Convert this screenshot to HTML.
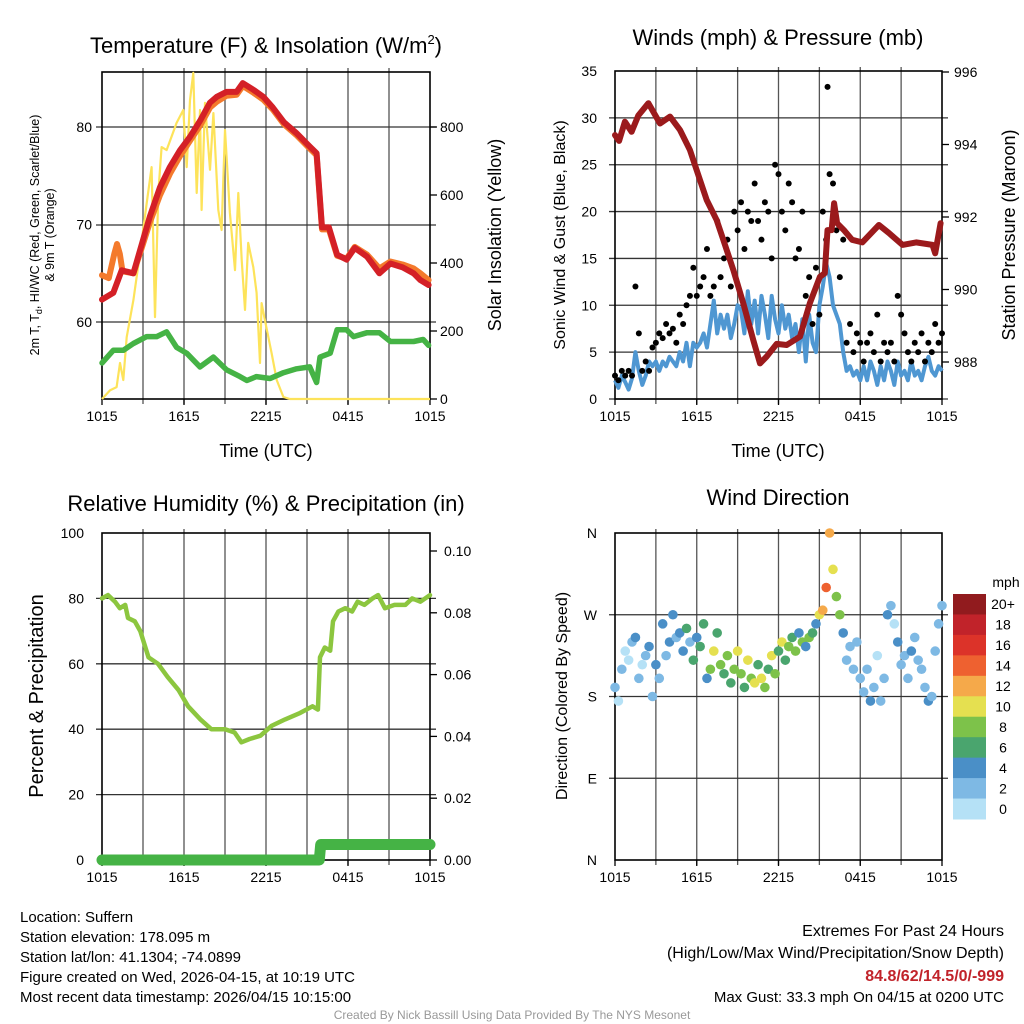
<!DOCTYPE html>
<html><head><meta charset="utf-8"><style>
body{margin:0;background:#fff;}
svg{display:block;font-family:"Liberation Sans",sans-serif;}
</style></head><body>
<svg id="s" width="1024" height="1024" viewBox="0 0 1024 1024" xmlns="http://www.w3.org/2000/svg"></svg>
<script>
// ---- Panel 1 data ----
const tHours=[0,0.83,1.44,2.3,3.0,3.5,4.24,4.97,5.7,6.44,7.2,7.9,8.4,9.1,9.85,10.3,11.1,11.8,12.5,13.3,14.2,15.2,15.7,16.1,16.6,17.2,17.9,18.5,19.4,20.3,21.1,22.0,22.8,23.3,23.9];
const tempRed=[62.3,63,65.3,65,68.4,70.8,73.8,75.9,77.6,79,80.7,82.5,83.1,83.6,83.6,84.5,83.8,83.1,82,80.5,79.4,78,77.3,69.7,69.7,66.9,66.4,67.6,66.7,65,66,65.6,65,64.3,63.8];
const oHours=[0,0.5,0.9,1.1,1.3,1.5,2.3,3.0,3.5,4.24,4.97,5.7,6.44,7.2,7.9,8.4,9.1,9.85,10.3,11.1,11.8,12.5,13.3,14.2,15.2,15.7,16.1,16.6,17.2,17.9,18.5,19.4,20.3,21.1,22.0,22.8,23.3,23.9];
const tempOrange=[64.8,64.5,67,68,67,65.2,65,68,70.2,73,75.2,77,78.6,80.2,82,82.6,83.2,83.3,84.2,83.5,82.8,81.8,80.3,79.2,77.8,77.1,69.5,69.5,66.8,66.5,67.7,66.9,65.5,66.2,65.9,65.5,65,64.3];
const dHours=[0,0.83,1.56,2.3,3.27,4.0,4.73,5.46,6.2,7.17,8.15,9.12,10.1,10.6,11.3,12.3,13.27,14.24,15.2,15.7,15.95,16.7,17.2,17.9,18.4,19.4,20.3,21.1,22.05,22.8,23.5,23.9];
const dewGreen=[55.8,57.1,57.1,57.8,58.5,58.5,59,57.4,56.8,55.4,56.4,55.1,54.4,54,54.4,54.2,54.8,55.2,55.4,53.8,56.4,56.8,59.2,59.2,58.5,58.9,58.9,58,58,58,58.2,57.6];
const sHours=[0,0.59,1.07,1.32,1.56,1.81,2.3,2.78,3.27,3.63,3.88,4.12,4.36,4.73,5.46,5.95,6.2,6.44,6.68,6.93,7.17,7.29,7.54,7.9,8.15,8.51,8.75,9.0,9.36,9.73,9.97,10.22,10.46,10.7,11.07,11.31,11.56,11.68,11.92,12.41,12.78,13.27,13.75,24];
const solar=[0,26,35,106,56,182,291,429,576,682,241,606,741,732,812,850,682,879,959,606,850,556,871,674,841,556,497,791,547,379,606,409,262,459,388,312,106,282,232,135,56,6,0,0];
// ---- Panel 2 data ----
const pHours=[0,0.3,0.73,1.22,1.71,2.45,3.3,4.04,4.77,5.5,5.99,6.73,7.46,7.95,8.68,9.42,10.15,10.64,11.13,11.87,12.6,13.58,14.3,15.04,15.4,15.6,15.9,16.08,16.3,16.8,17.4,18.15,19.37,20.1,21.1,22.1,23.3,23.5,23.9];
const pressure=[994.26,994.1,994.63,994.35,994.8,995.14,994.58,994.77,994.4,993.85,993.3,992.47,991.92,991.37,990.54,989.62,988.6,987.96,988.15,988.5,988.47,988.7,989.62,990.35,990.45,991.64,991.64,992.38,991.83,991.64,991.37,991.3,991.78,991.56,991.23,991.3,991.23,991.0,991.83];
// 15-minute series (97 values, h=0..24)
const wind=[2,1.2,2.5,1.8,1,2.2,5,3,1.5,2.5,4,3.5,4,3,4,3.5,4.5,4,3.5,5,4,6,3.5,6,5.5,6,7,5.5,8,10.5,7,9,7.5,9,6.5,8,10,9.5,7,11.5,8,10.5,7,11,9,6.5,11,8.5,7,10,7.5,9,6.5,8,5,8.5,4,9,6,5,10,12,14.5,13,10,9,8,5,3,3.5,2.5,3,2,3.5,2,4,3,1.5,3.5,2,4,3,1.5,4,2.5,3,2,4,2.5,3,2,3.5,4.5,3,2.5,3.5,3];
const gust=[2.5,2,3,2.5,3,2.5,12,7,3,4,3,5.5,6,7,6.5,8,7,7.5,6,9,8,10,11,14,11,12,13,16,11,12,19,13,15,17,12,20,18,21,16,20,19,23,19,17,21,20,15,25,24,20,18,23,21,15,16,20,11,13,8,14,9,20,17,24,23,18,13,17,6,8,5,7,6,4,6,7,5,9,4,6,5,6,4,11,9,7,5,4,6,5,7,4,6,5,8,6,7];
const extraGustHours=[15.6];
const extraGust=[33.3];
const direction=[190,175,210,230,220,240,245,200,215,225,235,180,215,200,260,225,240,270,245,250,230,255,240,220,245,235,260,200,210,230,250,215,205,225,195,210,230,205,190,220,200,195,215,200,190,210,225,205,230,240,220,235,245,230,250,240,235,245,250,260,270,275,300,360,320,290,270,250,220,235,210,240,200,185,210,175,190,225,175,200,270,280,260,240,215,225,200,230,245,220,210,190,175,180,230,260,280];
// ---- Panel 3 data ----
const rhHours=[0,0.44,0.95,1.3,1.7,1.9,2.4,2.8,3.4,4.1,4.8,5.6,6.3,7.2,8.0,9.0,9.7,10.2,10.8,11.6,12.4,13.4,14.5,15.4,15.8,15.95,16.3,16.7,16.9,17.3,17.8,18.3,18.7,19.2,19.8,20.2,20.7,21.4,22.2,22.7,23.3,24];
const rh=[80,81,79,77,78,74,73,70,62,60,56,52,47,43,40,40,39,36,37,38,41,43,45,47,46,62,65,64,73,76,77,76,79,78,80,81,77,78,78,80,79,81];
const precipHours=[0,15.9,16.0,24];
const precip=[0,0,0.005,0.005];
const xTickLabels=["1015","1615","2215","0415","1015"];
const cbLabels=["20+","18","16","14","12","10","8","6","4","2","0"];
const cbColors=["#911b1e","#c1232a","#dc3329","#ee6130","#f5a94a","#e5e050","#7dc24a","#4aa56e","#4a8fc7","#7eb9e4","#b5e1f6"];

const S=document.getElementById('s');
const NS='http://www.w3.org/2000/svg';
function mk(tag,attrs,parent){const e=document.createElementNS(NS,tag);for(const k in attrs)e.setAttribute(k,attrs[k]);(parent||S).appendChild(e);return e;}
function txt(x,y,s,size,anchor,parent,extra){const e=mk('text',Object.assign({x:x,y:y,'font-size':size,'text-anchor':anchor||'middle',fill:'#000'},extra||{}),parent);e.textContent=s;return e;}
function lin(a0,a1,p0,p1){return v=>p0+(v-a0)*(p1-p0)/(a1-a0);}
function pathD(xs,ys,fx,fy){return xs.map((h,i)=>(i?'L':'M')+fx(h).toFixed(1)+','+fy(ys[i]).toFixed(1)).join('');}

function frame(x0,x1,y0,y1,hLines,name){
  const g=mk('g',{});
  
  
  const fx=lin(0,24,x0,x1);
  for(let h=3;h<24;h+=3){const l=mk('line',{x1:fx(h),x2:fx(h),y1:y0-4,y2:y1+5,stroke:'#555','stroke-width':1.3},g);}
  hLines.forEach(y=>{const l=mk('line',{x1:x0-6,x2:x1+6,y1:y,y2:y,stroke:'#333','stroke-width':1.3},g);});
  const r=mk('rect',{x:x0,y:y0,width:x1-x0,height:y1-y0,fill:'none',stroke:'#000','stroke-width':1.6},g);
  
  xTickLabels.forEach((t,i)=>{const e=txt(fx(i*6),y1+22,t,14,'middle',g);
    mk('line',{x1:fx(i*6),x2:fx(i*6),y1:y1,y2:y1+6,stroke:'#000','stroke-width':1.3},g);});
  return fx;
}

// ===== Panel 1 =====
{
const x0=102,x1=430,y0=72,y1=399;
const fy=lin(60,80,322,127), fs=lin(0,800,399,127);
const fx=frame(x0,x1,y0,y1,[127,225,322],'temperature-panel');
[60,70,80].forEach(v=>{const e=txt(x0-10,fy(v)+5,String(v),14,'end');});
[0,200,400,600,800].forEach(v=>{const e=txt(x1+10,fs(v)+5,String(v),14,'start');
  mk('line',{x1:x1,x2:x1+7,y1:fs(v),y2:fs(v),stroke:'#000','stroke-width':1.3});});
let e;
e=mk('path',{d:pathD(sHours,solar,fx,fs),fill:'none',stroke:'#fde35a','stroke-width':2.2,'stroke-linejoin':'round'});
e=mk('path',{d:pathD(oHours,tempOrange,fx,fy),fill:'none',stroke:'#f47a2c','stroke-width':6,'stroke-linejoin':'round','stroke-linecap':'round'});
e=mk('path',{d:pathD(tHours,tempRed,fx,fy),fill:'none',stroke:'#d42027','stroke-width':6,'stroke-linejoin':'round','stroke-linecap':'round'});
e=mk('path',{d:pathD(dHours,dewGreen,fx,fy),fill:'none',stroke:'#45b345','stroke-width':5.5,'stroke-linejoin':'round','stroke-linecap':'round'});
e=mk('text',{x:266,y:53,'font-size':22,'text-anchor':'middle'});e.innerHTML='Temperature (F) &amp; Insolation (W/m<tspan dy="-9" font-size="13">2</tspan><tspan dy="9">)</tspan>';
e=txt(266,457,'Time (UTC)',18);
e=mk('text',{x:0,y:0,'font-size':12.5,'text-anchor':'middle',transform:'translate(39,235) rotate(-90)'});e.innerHTML='2m T, T<tspan dy="3" font-size="9">d</tspan><tspan dy="-3">, HI/WC (Red, Green, Scarlet/Blue)</tspan>';
e=txt(0,0,'& 9m T (Orange)',12.5,'middle',S,{transform:'translate(54,235) rotate(-90)'});
e=txt(0,0,'Solar Insolation (Yellow)',18,'middle',S,{transform:'translate(501,235) rotate(-90)'});
}
// ===== Panel 2 =====
{
const x0=615,x1=942,y0=71,y1=399;
const fy=lin(0,35,399,71), fp=lin(988,996,362,72);
const fx=frame(x0,x1,y0,y1,[0,5,10,15,20,25,30].map(fy),'winds-panel');
[0,5,10,15,20,25,30,35].forEach(v=>{const e=txt(x0-18,fy(v)+5,String(v),14,'end');});
[988,990,992,994,996].forEach(v=>{const e=txt(x1+12,fp(v)+5,String(v),14,'start');
  mk('line',{x1:x1,x2:x1+7,y1:fp(v),y2:fp(v),stroke:'#000','stroke-width':1.3});});
const hh=wind.map((_,i)=>i*0.25);
let e=mk('path',{d:pathD(hh,wind,fx,fy),fill:'none',stroke:'#4f97d2','stroke-width':4,'stroke-linejoin':'round'});
gust.forEach((g,i)=>{const c=mk('circle',{cx:fx(i*0.25),cy:fy(g),r:3,fill:'#000'});});
extraGust.forEach((g,i)=>{const c=mk('circle',{cx:fx(extraGustHours[i]),cy:fy(g),r:3,fill:'#000'});});
e=mk('path',{d:pathD(pHours,pressure,fx,fp),fill:'none',stroke:'#9b1a1c','stroke-width':6,'stroke-linejoin':'round','stroke-linecap':'round'});
e=txt(778,45,'Winds (mph) & Pressure (mb)',22);
e=txt(778,457,'Time (UTC)',18);
e=txt(0,0,'Sonic Wind & Gust (Blue, Black)',16,'middle',S,{transform:'translate(565,235) rotate(-90)'});
e=txt(0,0,'Station Pressure (Maroon)',18,'middle',S,{transform:'translate(1015,235) rotate(-90)'});
}
// ===== Panel 3 =====
{
const x0=102,x1=430,y0=533,y1=860;
const fy=lin(0,100,860,533), fq=lin(0,0.1,860,551);
const fx=frame(x0,x1,y0,y1,[20,40,60,80].map(fy),'humidity-panel');
[0,20,40,60,80,100].forEach(v=>{const e=txt(x0-18,fy(v)+5,String(v),14,'end');});
[0,0.02,0.04,0.06,0.08,0.1].forEach(v=>{const e=txt(x1+14,fq(v)+5,v.toFixed(2),14,'start');
  mk('line',{x1:x1,x2:x1+7,y1:fq(v),y2:fq(v),stroke:'#000','stroke-width':1.3});});
let e=mk('path',{d:pathD(rhHours,rh,fx,fy),fill:'none',stroke:'#8cc63f','stroke-width':4.5,'stroke-linejoin':'round','stroke-linecap':'round'});
e=mk('path',{d:pathD(precipHours,precip,fx,fq),fill:'none',stroke:'#45b345','stroke-width':11,'stroke-linejoin':'round','stroke-linecap':'round'});
e=txt(266,511,'Relative Humidity (%) & Precipitation (in)',22);
e=txt(0,0,'Percent & Precipitation',20,'middle',S,{transform:'translate(43,696) rotate(-90)'});
}
// ===== Panel 4 =====
{
const x0=615,x1=942,y0=533,y1=860;
const fd=lin(360,0,533,860);
const fx=frame(x0,x1,y0,y1,[270,180,90].map(fd),'direction-panel');
[['N',360],['W',270],['S',180],['E',90],['N',0]].forEach(p=>{const e=txt(x0-18,fd(p[1])+5,p[0],14,'end');});
direction.forEach((d,i)=>{const b=Math.min(10,Math.floor(wind[i]/2));const c=mk('circle',{cx:fx(i*0.25),cy:fd(d),r:4.8,fill:cbColors[10-b]});});
let e=txt(778,505,'Wind Direction',22);
e=txt(0,0,'Direction (Colored By Speed)',16,'middle',S,{transform:'translate(567,696) rotate(-90)'});
const cb=mk('g',{});
const bh=225/11;
cbColors.forEach((c,i)=>{mk('rect',{x:953,y:594+i*bh,width:33,height:bh+0.5,fill:c},cb);
  const t=txt(1003,594+i*bh+bh/2+5,cbLabels[i],14,'middle',cb);});
e=txt(1006,587,'mph',14);
}
// ===== Footer text =====
{
const L=["Location: Suffern","Station elevation: 178.095 m","Station lat/lon: 41.1304; -74.0899","Figure created on Wed, 2026-04-15, at 10:19 UTC","Most recent data timestamp: 2026/04/15 10:15:00"];
L.forEach((s,i)=>{const e=txt(20,922+i*20,s,15,'start');});
let e=txt(1004,936,'Extremes For Past 24 Hours',16,'end');
e=txt(1004,958,'(High/Low/Max Wind/Precipitation/Snow Depth)',16,'end');
e=txt(1004,981,'84.8/62/14.5/0/-999',16,'end',S,{fill:'#c1232a','font-weight':'bold'});
e=txt(1004,1002,'Max Gust: 33.3 mph On 04/15 at 0200 UTC',15,'end');
e=txt(512,1019,'Created By Nick Bassill Using Data Provided By The NYS Mesonet',12,'middle',S,{fill:'#999'});
}
</script>
</body></html>
